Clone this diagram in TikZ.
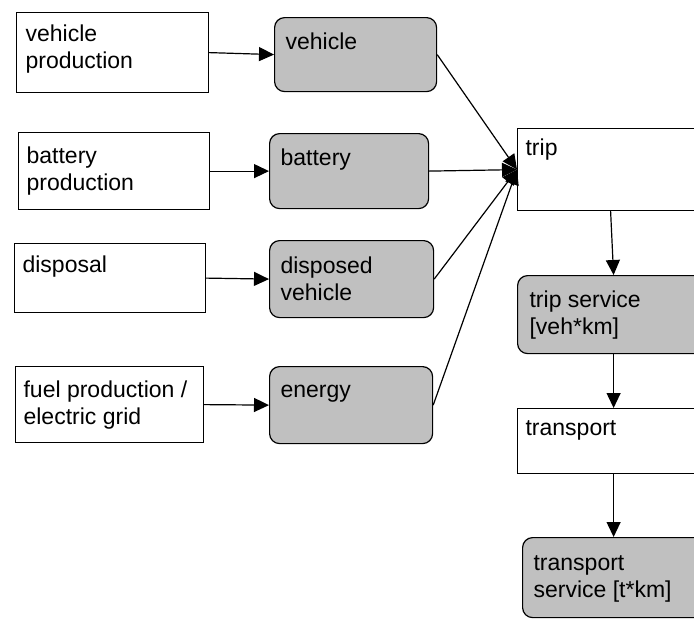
\documentclass[tikz,border=0pt]{standalone}
\usepackage{fontspec}
\setmainfont{Liberation Sans}
\usetikzlibrary{arrows.meta}
\newcommand{\bxt}[5]{\parbox[c][#2pt][t]{#1pt}{\fontsize{23}{26.5}\selectfont\raggedright\leftskip=#4pt\rule{0pt}{#3pt}#5}}
\tikzset{
  wbox/.style={draw=black, line width=1.2pt, fill=white, inner sep=0pt, anchor=north west},
  gbox/.style={draw=black, line width=1.2pt, fill=gbg, rounded corners=10pt, inner sep=0pt, anchor=north west},
  arr/.style={line width=1.2pt, -{Triangle[length=15pt,width=14pt]}}
}
\definecolor{gbg}{HTML}{C0C0C0}
\begin{document}
\begin{tikzpicture}[x=1pt,y=-1pt]
\useasboundingbox (0,0) rectangle (694,619);
\clip (0,0) rectangle (694,619);
% left column
\node[wbox] (vp) at (16,12) {\bxt{192}{80}{29}{9}{vehicle\\production}};
\node[wbox] (bp) at (18,132) {\bxt{191}{77}{31}{8}{battery\\production}};
\node[wbox] (dp) at (14,243) {\bxt{191}{69}{29}{8}{disposal}};
\node[wbox] (fp) at (15,366) {\bxt{188}{76}{31}{8}{fuel production /\\electric grid}};
% grey column
\node[gbox] (veh) at (274,17) {\bxt{162}{74}{32}{11}{vehicle}};
\node[gbox] (bat) at (269,133) {\bxt{159}{75}{32}{11}{battery}};
\node[gbox] (dis) at (269,240) {\bxt{164}{77}{33}{11}{disposed\\vehicle}};
\node[gbox] (ene) at (269,366) {\bxt{163}{77}{31}{11}{energy}};
% right column
\node[wbox] (trip) at (517,128) {\bxt{186}{82}{27}{8}{trip}};
\node[gbox] (ts) at (517,275) {\bxt{192}{78}{32}{12}{trip service\\{[veh*km]}}};
\node[wbox] (tr) at (517,408) {\bxt{192}{65}{27}{8}{transport}};
\node[gbox] (tsv) at (522,537) {\bxt{182}{80}{33}{11}{transport\\service [t*km]}};
% arrows
\draw[arr] (vp.east) -- (veh.west);
\draw[arr] (bp.east) -- (bat.west);
\draw[arr] (dp.east) -- (dis.west);
\draw[arr] (fp.east) -- (ene.west);
\draw[arr] (veh.east) -- (trip.west);
\draw[arr] (bat.east) -- (trip.west);
\draw[arr] (dis.east) -- (trip.west);
\draw[arr] (ene.east) -- (trip.west);
\draw[arr] (trip.south) -- (ts.north);
\draw[arr] (ts.south) -- (tr.north);
\draw[arr] (tr.south) -- (tsv.north);
\end{tikzpicture}
\end{document}
